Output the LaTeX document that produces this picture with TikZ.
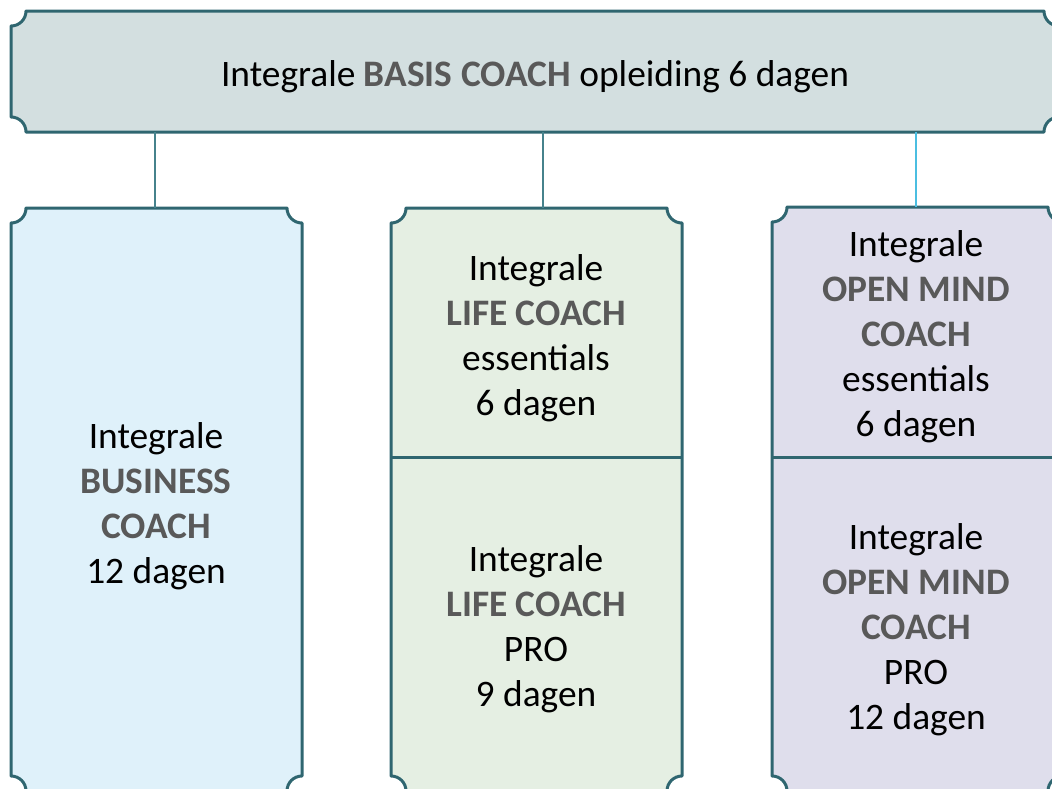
\documentclass[tikz,border=0pt]{standalone}
\usepackage{fontspec}
\setmainfont{Carlito}
\usepackage{tikz}
\usetikzlibrary{positioning}
\usetikzlibrary{calc}
\definecolor{edgeTeal}{RGB}{47,102,112}
\definecolor{linkTeal}{RGB}{70,130,140}
\definecolor{linkSky}{RGB}{75,190,225}
\definecolor{boldGray}{RGB}{89,89,89}
\definecolor{fillBasis}{RGB}{211,223,224}
\definecolor{fillBusiness}{RGB}{223,241,250}
\definecolor{fillLife}{RGB}{229,239,227}
\definecolor{fillMind}{RGB}{223,222,236}
\tikzset{cardbox/.style={draw=edgeTeal, line width=3pt, line join=round}}
\tikzset{cardtext/.style={align=center, font=\fontsize{37.4}{45}\selectfont, text=black}}
\tikzset{link/.style={draw=linkTeal, line width=1.5pt}}
\newcommand{\hl}[1]{\textbf{\color{boldGray}#1}}
% box with hollow (inward) corners: x1,y1,x2,y2,fill
\newcommand{\scallopbox}[5]{%
  \path[cardbox, fill=#5] (#1+15,#2) -- (#3-15,#2)
    .. controls +(0,8.3) and +(-8.3,0) .. (#3,#2+15) -- (#3,#4-15)
    .. controls +(-8.3,0) and +(0,-8.3) .. (#3-15,#4) -- (#1+15,#4)
    .. controls +(0,-8.3) and +(8.3,0) .. (#1,#4-15) -- (#1,#2+15)
    .. controls +(8.3,0) and +(0,8.3) .. cycle;}

\begin{document}
\begin{tikzpicture}[x=1pt, y=-1pt]
\useasboundingbox (0,0) rectangle (1052,788);
\clip (0,0) rectangle (1052,788);

\scallopbox{11}{11}{1059}{132}{fillBasis}
\scallopbox{11}{208}{302}{791}{fillBusiness}
\scallopbox{391}{208}{682}{791}{fillLife}
\scallopbox{772}{207}{1063}{791}{fillMind}

\draw[cardbox] (391,457) -- (682,457);
\draw[cardbox] (772,457) -- (1063,457);

\node[cardtext] (basis) at (535,77) {Integrale \hl{BASIS COACH} opleiding 6 dagen};
\node[cardtext] (business) at (156,506) {Integrale\\\hl{BUSINESS}\\\hl{COACH}\\12 dagen};
\node[cardtext] (lifeess) at (536,338) {Integrale\\\hl{LIFE COACH}\\essentials\\6 dagen};
\node[cardtext] (lifepro) at (536,629) {Integrale\\\hl{LIFE COACH}\\PRO\\9 dagen};
\node[cardtext] (mindess) at (916,337) {Integrale\\\hl{OPEN MIND}\\\hl{COACH}\\essentials\\6 dagen};
\node[cardtext] (mindpro) at (916,630) {Integrale\\\hl{OPEN MIND}\\\hl{COACH}\\PRO\\12 dagen};

\coordinate (linkA) at (155,132);
\coordinate (linkB) at (543,132);
\coordinate (linkC) at (916,132);
\coordinate (businessTop) at (155,208);
\coordinate (lifeTop) at (543,208);
\coordinate (mindTop) at (916,207);

\draw[link] (linkA) -- (businessTop);
\draw[link] (linkB) -- (lifeTop);
\draw[link, draw=linkSky] (linkC) -- (mindTop);

\end{tikzpicture}
\end{document}
